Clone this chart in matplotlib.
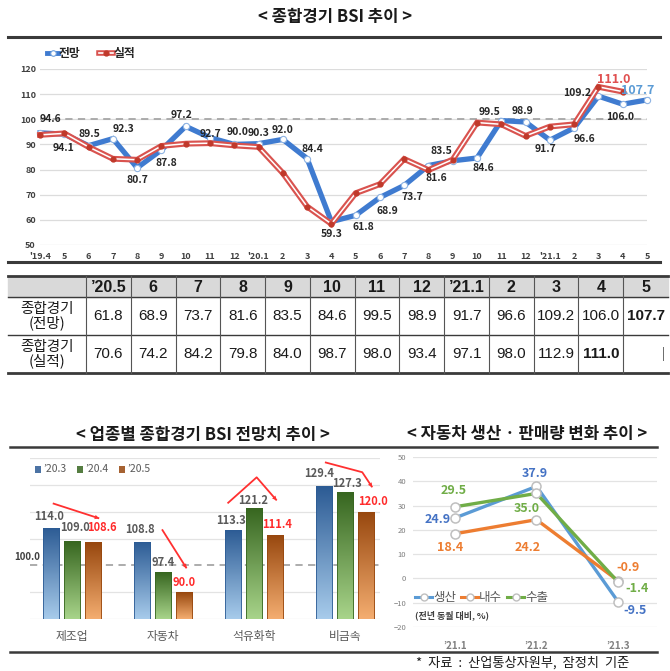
import numpy as np
import matplotlib

matplotlib.use("Agg")
import matplotlib.pyplot as plt
from matplotlib import font_manager as fm
from matplotlib.colors import LinearSegmentedColormap
from matplotlib.patches import Rectangle

plt.rcParams["font.family"] = ["Noto Sans CJK KR", "DejaVu Sans"]

W, H = 670, 671

# ---- 종합경기 BSI 추이 (top line chart + table)
months = ["'19.4", "5", "6", "7", "8", "9", "10", "11", "12", "'20.1", "2", "3", "4",
          "5", "6", "7", "8", "9", "10", "11", "12", "'21.1", "2", "3", "4", "5"]
forecast = [94.6, 94.1, 89.5, 92.3, 80.7, 87.8, 97.2, 92.7, 90.0, 90.3, 92.0, 84.4, 59.3,
            61.8, 68.9, 73.7, 81.6, 83.5, 84.6, 99.5, 98.9, 91.7, 96.6, 109.2, 106.0, 107.7]
actual = [93.8, 94.4, 89.0, 84.3, 83.9, 89.4, 90.3, 90.5, 89.6, 89.0, 78.6, 65.3, 58.4,
          70.6, 74.2, 84.2, 79.8, 84.0, 98.7, 98.0, 93.4, 97.1, 98.0, 112.9, 111.0]
table_cols = ["’20.5", "6", "7", "8", "9", "10", "11", "12", "’21.1", "2", "3", "4", "5"]

# ---- 업종별 종합경기 BSI 전망치 추이 (bars)
industries = ["제조업", "자동차", "석유화학", "비금속"]
bar_periods = ["’20.3", "’20.4", "’20.5"]
bsi_203 = [114.0, 108.8, 113.3, 129.4]
bsi_204 = [109.0, 97.4, 121.2, 127.3]
bsi_205 = [108.6, 90.0, 111.4, 120.0]

# ---- 자동차 생산·판매량 변화 추이 (small line chart)
car_months = ["’21.1", "’21.2", "’21.3"]
production = [24.9, 37.9, -9.5]
domestic = [18.4, 24.2, -0.9]
export = [29.5, 35.0, -1.4]

# label offsets in pixels (dx, dy)
fc_offsets = [(10, 14), (-1, -14), (1, 12), (11, 10), (0, -12), (5, -13), (-4, 11), (1, 4),
              (3, 12), (0, 11), (0, 9), (5, 10), (0, -12), (8, -12), (7, -14), (8, -12),
              (8, -12), (-11, 10), (6, -10), (-12, 9), (-3, 11), (-4, -9), (10, -11),
              (-21, 3), (-3, -13), (-9, 9)]
bar_label_offsets = [
    [(-2, 11), (-2, 12), (-2, 9), (-5, 13)],
    [(3, 14), (0, 10), (-1, 8), (2, 9)],
    [(9, 15), (0, 10), (2, 10), (7, 10)],
]


def pick_font(name, fallback):
    try:
        fm.findfont(fm.FontProperties(family=name), fallback_to_default=False)
        return name
    except ValueError:
        return fallback


NARROW = pick_font("Liberation Sans Narrow", "Liberation Sans")


def px_axes(fig, l, t, r, b):
    ax = fig.add_axes([l / W, 1 - b / H, (r - l) / W, (b - t) / H])
    ax.patch.set_visible(False)
    for s in ax.spines.values():
        s.set_visible(False)
    ax.tick_params(length=0)
    return ax


fig = plt.figure(figsize=(W / 100, H / 100), dpi=100)
bg = fig.add_axes([0, 0, 1, 1], zorder=0)
bg.set_xlim(0, W)
bg.set_ylim(H, 0)
bg.axis("off")

DARK = "#3a3a3a"

# ================= top chart =================
bg.text(335, 17, "< 종합경기 BSI 추이 >", ha="center", va="center", fontsize=12,
        fontweight="bold", color="#1a1a1a")
bg.plot([8, 660], [37, 37], color=DARK, lw=2.2)
bg.plot([8, 660], [262, 262], color=DARK, lw=2.2)

# legend
bg.plot([47, 58], [53, 53], color="#3f7bd0", lw=3.5)
bg.plot([52.5], [53], "o", ms=4, mfc="white", mec="#6fa0dc", mew=0.8)
bg.text(59, 53, "전망", ha="left", va="center", fontsize=8.5, fontweight="bold", color="#262626")
bg.plot([99, 113], [53, 53], color="#d9534f", lw=4)
bg.plot([99, 113], [53, 53], color="white", lw=1.2)
bg.plot([106], [53], "o", ms=3.5, color="#c0392b")
bg.text(114, 53, "실적", ha="left", va="center", fontsize=8.5, fontweight="bold", color="#262626")

ax = px_axes(fig, 40, 69, 647, 245)
x = np.arange(len(months))
xa = x[:len(actual)]
ax.set_yticks(range(50, 121, 10))
ax.grid(axis="y", color="#dcdcdc", lw=0.9)
ax.set_axisbelow(True)
ax.axhline(100, color="#a6a6a6", lw=1.3, ls=(0, (4, 3)), zorder=1)
ax.plot(x, forecast, color="#3f7bd0", lw=3.8, zorder=3, clip_on=False, solid_joinstyle="miter")
ax.plot(x, forecast, "o", ms=4.5, mfc="white", mec="#8fb4e3", mew=0.8, zorder=3.1, clip_on=False)
ax.plot(xa, actual, color="#d9534f", lw=4.2, zorder=4, clip_on=False, solid_joinstyle="miter")
ax.plot(xa, actual, color="white", lw=1.1, zorder=4.1, clip_on=False)
ax.plot(xa, actual, "o", ms=3.5, color="#c0392b", zorder=4.2, clip_on=False)
ax.set_xticks(x, months)
ax.tick_params(axis="x", pad=5, labelsize=6.5, labelcolor="#404040")
ax.tick_params(axis="y", pad=3, labelsize=6.5, labelcolor="#404040")
for lab in ax.get_xticklabels() + ax.get_yticklabels():
    lab.set_fontweight("bold")
ax.set_xlim(0, 25)
ax.set_ylim(50, 120)

for i, (v, (dx, dy)) in enumerate(zip(forecast, fc_offsets)):
    last = i == len(forecast) - 1
    ax.annotate(f"{v:.1f}", (i, v), xytext=(dx, dy), textcoords="offset pixels",
                ha="center", va="center", fontsize=9 if last else 7.5, fontweight="bold",
                color="#5b9bd5" if last else "#262626", zorder=6)
ax.annotate(f"{actual[-1]:.1f}", (len(actual) - 1, actual[-1]), xytext=(-9, 12),
            textcoords="offset pixels", ha="center", va="center", fontsize=9,
            fontweight="bold", color="#e05050", zorder=6)

# ================= table =================
col_edges = np.linspace(86, 668, len(table_cols) + 1)
bg.add_patch(Rectangle((8, 276), 660, 21, color="#d9d9d9", zorder=0))
for yy, lw in [(276, 2.0), (297, 1.0), (335, 1.0), (373, 2.0)]:
    bg.plot([8, 668], [yy, yy], color=DARK, lw=lw)
for xe in col_edges[:-1]:
    bg.plot([xe, xe], [276, 373], color="#555555", lw=0.8)

row_fc = forecast[-len(table_cols):]
row_ac = actual[-(len(table_cols) - 1):]
centers = (col_edges[:-1] + col_edges[1:]) / 2
for j, c in enumerate(table_cols):
    bg.text(centers[j], 287, c, ha="center", va="center", fontsize=11.5, fontweight="bold",
            family=[NARROW, "Noto Sans CJK KR"], color="#1a1a1a")
    bold_fc = j == len(table_cols) - 1
    bg.text(centers[j], 316, f"{row_fc[j]:.1f}", ha="center", va="center", fontsize=11,
            fontweight="bold" if bold_fc else "normal", family=[NARROW, "DejaVu Sans"],
            color="#1a1a1a")
    if j < len(row_ac):
        bold_ac = j == len(row_ac) - 1
        bg.text(centers[j], 354, f"{row_ac[j]:.1f}", ha="center", va="center", fontsize=11,
                fontweight="bold" if bold_ac else "normal", family=[NARROW, "DejaVu Sans"],
                color="#1a1a1a")
bg.text(663, 354, "|", ha="center", va="center", fontsize=9, color="#404040")
for yy, lab in [(316, "종합경기\n(전망)"), (354, "종합경기\n(실적)")]:
    bg.text(47, yy, lab, ha="center", va="center", fontsize=10.5, linespacing=0.95,
            color="#1a1a1a")

# ================= bottom titles / frame =================
bg.text(203, 435, "< 업종별 종합경기 BSI 전망치 추이 >", ha="center", va="center",
        fontsize=12, fontweight="bold", color="#1a1a1a")
bg.text(527, 434, "< 자동차 생산 · 판매량 변화 추이 >", ha="center", va="center",
        fontsize=12, fontweight="bold", color="#1a1a1a")
bg.plot([10, 657], [447, 447], color=DARK, lw=1.8)
bg.plot([10, 657], [652, 652], color=DARK, lw=1.8)
bg.text(523, 663, "*  자료  :  산업통상자원부,  잠정치  기준", ha="center", va="center",
        fontsize=9.5, color="#1a1a1a")

# ================= bar chart =================
bx = px_axes(fig, 30, 458, 380, 619)
bx.set_yticks([80, 90, 110, 120, 130, 140])
bx.grid(axis="y", color="#e3e3e3", lw=0.9)
bx.set_axisbelow(True)
bx.axhline(100, color="#a6a6a6", lw=1.3, ls=(0, (4, 3)), zorder=1)
bx.set_yticklabels([])

series = [
    (bsi_203, ("#a7cbeb", "#2c5b94"), "#595959"),
    (bsi_204, ("#a8d48a", "#376620"), "#595959"),
    (bsi_205, ("#f4ad70", "#97470e"), "#ff2a2a"),
]
step, width = 0.231, 0.18
grad = np.linspace(0, 1, 128).reshape(-1, 1)
for k, (vals, (light, dark), lcol) in enumerate(series):
    cmap = LinearSegmentedColormap.from_list(f"g{k}", [light, dark])
    pos = np.arange(len(industries)) + (k - 1) * step
    bars = bx.bar(pos, vals, width, color="none", edgecolor=dark, lw=0.6, zorder=3)
    for rect, v in zip(bars, vals):
        x0 = rect.get_x()
        im = bx.imshow(grad, extent=(x0, x0 + width, 80, v), origin="lower", cmap=cmap,
                       aspect="auto", zorder=2)
        im.set_clip_path(rect)
    for p, v, (dx, dy) in zip(pos, vals, bar_label_offsets[k]):
        bx.annotate(f"{v:.1f}", (p, v), xytext=(dx, dy), textcoords="offset pixels",
                    ha="center", va="center", fontsize=8, fontweight="bold", color=lcol,
                    zorder=6)

# red trend arrows (annotation paths, data units)
arrows = [
    [(-0.21, 123.1), (0.30, 117.5)],
    [(0.99, 113.4), (1.26, 98.9)],
    [(1.71, 123.1), (2.03, 132.8), (2.25, 124.2)],
    [(2.78, 138.4), (3.19, 134.7), (3.30, 129.1)],
]
for path in arrows:
    xs, ys = zip(*path)
    bx.plot(xs, ys, color="#ff3030", lw=1.3, zorder=5, clip_on=False, solid_capstyle="butt")
    bx.annotate("", xy=path[-1], xytext=path[-2],
                arrowprops=dict(arrowstyle="-|>", color="#ff3030", lw=0, mutation_scale=8,
                                shrinkA=0, shrinkB=0), annotation_clip=False)

bx.set_xticks(range(len(industries)), industries)
bx.tick_params(axis="x", pad=8, labelsize=8.5, labelcolor="#595959")
bx.set_xlim(-0.46, 3.385)
bx.set_ylim(80, 140)
bg.text(27, 557, "100.0", ha="center", va="center", fontsize=7, fontweight="bold",
        color="#404040")

for k, (lab, (vals, (light, dark), _)) in enumerate(zip(bar_periods, series)):
    x0 = 35 + 42 * k
    bg.add_patch(Rectangle((x0, 466), 6, 7, facecolor=dark, edgecolor="none", alpha=0.85))
    bg.text(x0 + 8, 469.5, lab, ha="left", va="center", fontsize=7.5, color="#595959")

# ================= car chart =================
cx = px_axes(fig, 413, 457, 657, 627)
cx.set_yticks(range(-20, 51, 10))
cx.grid(axis="y", color="#e3e3e3", lw=0.9)
cx.set_axisbelow(True)
xc = np.arange(len(car_months))
car_series = [
    (production, "#5b9bd5", "#4472c4", [(-17, -2), (-2, 13), (17, -9)]),
    (domestic, "#ed7d31", "#ed7d31", [(-5, -14), (-9, -28), (10, 13)]),
    (export, "#70ad47", "#70ad47", [(-1, 16), (-10, -15), (19, -7)]),
]
for vals, lc, tc, offs in car_series:
    cx.plot(xc, vals, color=lc, lw=2.4, marker="o", ms=6.5, mfc="white", mec="#bfbfbf",
            mew=1.1, zorder=3)
    for xi, v, (dx, dy) in zip(xc, vals, offs):
        cx.annotate(f"{v:.1f}", (xi, v), xytext=(dx, dy), textcoords="offset pixels",
                    ha="center", va="center", fontsize=9, fontweight="bold", color=tc)
cx.set_xticks(xc, car_months)
cx.tick_params(axis="x", pad=10, labelsize=7, labelcolor="#7f7f7f")
cx.tick_params(axis="y", pad=5, labelsize=5.5, labelcolor="#7f7f7f")
for lab in cx.get_xticklabels():
    lab.set_fontweight("bold")
cx.set_xlim(-0.515, 2.479)
cx.set_ylim(-20, 50)

for (vals, lc, tc, _), name, x0 in zip(car_series, ["생산", "내수", "수출"], [415, 461, 507]):
    bg.plot([x0, x0 + 17], [597, 597], color=lc, lw=2.2)
    bg.plot([x0 + 8.5], [597], "o", ms=5, mfc="white", mec="#bfbfbf", mew=1)
    bg.text(x0 + 18, 597, name, ha="left", va="center", fontsize=9, color="#595959")
bg.text(415, 615, "(전년 동월 대비, %)", ha="left", va="center", fontsize=6.5,
        fontweight="bold", color="#404040")

fig.savefig("out.png", dpi=100)
